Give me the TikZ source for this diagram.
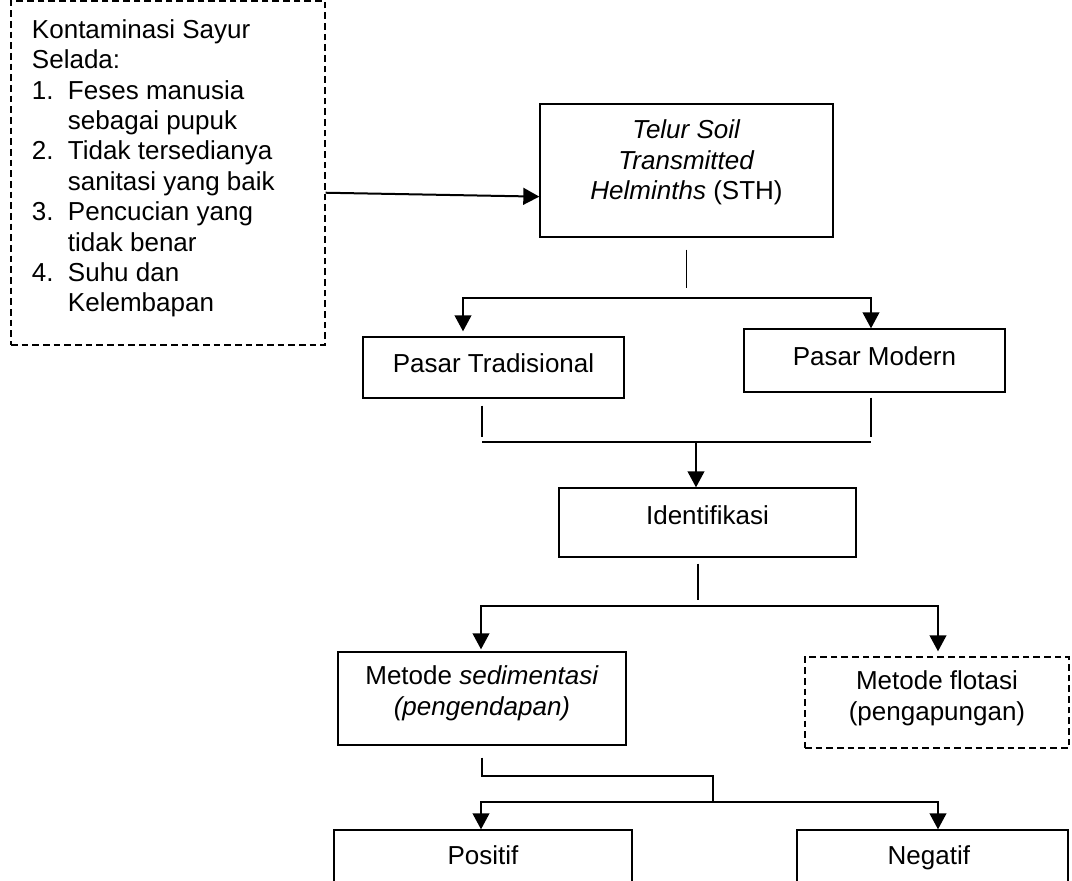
\documentclass[tikz,border=0pt]{standalone}
\usepackage{fontspec}
\setmainfont{Liberation Sans}
\usetikzlibrary{arrows.meta}
\newlength{\pxunit}
\setlength{\pxunit}{0.75pt}
\newcommand{\boxtext}[4]{%
    \begin{minipage}[c][#1\pxunit][t]{#2\pxunit}
        \centering
        \vspace*{#3\pxunit}
        #4
    \end{minipage}%
}
\newcommand{\numitem}[1]{\makebox[36\pxunit][l]{#1}}
\tikzset{
    flowbox/.style={
        draw,
        line width=1pt,
        inner sep=0pt,
        font=\fontsize{19.5}{22.8}\selectfont
    },
    dashbox/.style={
        flowbox,
        dash pattern=on 5pt off 3pt
    },
    stemline/.style={line width=0.8pt},
    forkline/.style={line width=1.5pt, <->},
    arrowline/.style={line width=1.5pt, ->}
}

\begin{document}
\begin{tikzpicture}[x=0.75pt, y=-0.75pt, >={Triangle[length=12pt,width=12.5pt]}]

% ---------------------------------------------------------
% Page frame
% ---------------------------------------------------------
\clip (0,0) rectangle (1072,881);

% ---------------------------------------------------------
% Contamination list
% ---------------------------------------------------------
\node[dashbox] (kontaminasi) at (168,173)
{%
    \begin{minipage}[c][344\pxunit][t]{314\pxunit}
        \raggedright
        \leftskip=21\pxunit
        \vspace*{18.5\pxunit}
        Kontaminasi Sayur\\
        Selada:\\
        \numitem{1.}Feses manusia\\
        \numitem{}sebagai pupuk\\
        \numitem{2.}Tidak tersedianya\\
        \numitem{}sanitasi yang baik\\
        \numitem{3.}Pencucian yang\\
        \numitem{}tidak benar\\
        \numitem{4.}Suhu dan\\
        \numitem{}Kelembapan
    \end{minipage}%
};

% ---------------------------------------------------------
% Flow boxes (name/x/y/width/height/top pad/text)
% ---------------------------------------------------------
\foreach \name/\cx/\cy/\w/\h/\pad/\txt in {
    sth/686.5/170.5/293/133/16/{\textit{Telur Soil}\\\textit{Transmitted}\\\textit{Helminths} (STH)},
    tradisional/493.5/367.5/261/61/17/{Pasar Tradisional},
    modern/874.5/360.5/261/63/18/{Pasar Modern},
    identifikasi/707.5/522.5/297/69/18/{Identifikasi},
    sedimentasi/482/698.5/288/93/14/{Metode \textit{sedimentasi}\\\textit{(pengendapan)}},
    positif/483/865/298/70/16/{Positif},
    negatif/932.5/865/271/70/16/{Negatif}
}
{
    \node[flowbox] (\name) at (\cx,\cy) {\boxtext{\h}{\w}{\pad}{\txt}};
}

\node[dashbox] (flotasi) at (937,702.5)
    {\boxtext{91}{264}{14}{Metode flotasi\\(pengapungan)}};

% ---------------------------------------------------------
% Connectors
% ---------------------------------------------------------
\draw[arrowline] ([yshift=-14.8pt]kontaminasi.east) -- ([yshift=-19.6pt]sth.west);

% STH to both markets
\coordinate (sthstem) at (686.5,288);
\coordinate (forkA) at (463,298);
\coordinate (forkB) at (871,298);
\draw[stemline, shorten <=9pt] (sth.south) -- (sthstem);
\draw[forkline, shorten <=3.75pt] (forkA |- tradisional.north) -- (forkA)
    -- (forkB) -- (forkB |- modern.north);

% markets to identification
\coordinate (joinA) at (482,442);
\coordinate (joinB) at (871,442);
\coordinate (joinM) at (696,442);
\draw[stemline, shorten <=5.25pt, shorten >=3.75pt] (tradisional.south -| joinA) -- (joinA);
\draw[stemline, shorten <=3.75pt, shorten >=3.75pt] (modern.south -| joinB) -- (joinB);
\draw[stemline] (joinA) -- (joinB);
\draw[arrowline] (joinM) -- (joinM |- identifikasi.north);

% identification to both methods
\coordinate (idstem) at (698,600);
\coordinate (forkC) at (481,606);
\coordinate (forkD) at (938,606);
\draw[stemline, shorten <=4.5pt] (identifikasi.south -| idstem) -- (idstem);
\draw[forkline, shorten <=1.5pt, shorten >=3.75pt] (forkC |- sedimentasi.north) -- (forkC)
    -- (forkD) -- (forkD |- flotasi.north);

% sedimentation to results
\coordinate (sedstem) at (713,776);
\coordinate (sedtail) at (713,802);
\coordinate (forkE) at (481,802);
\coordinate (forkF) at (938,802);
\draw[stemline, shorten <=9pt] (sedimentasi.south) |- (sedstem) -- (sedtail);
\draw[forkline] (forkE |- positif.north) -- (forkE) -- (forkF) -- (forkF |- negatif.north);

\end{tikzpicture}
\end{document}
